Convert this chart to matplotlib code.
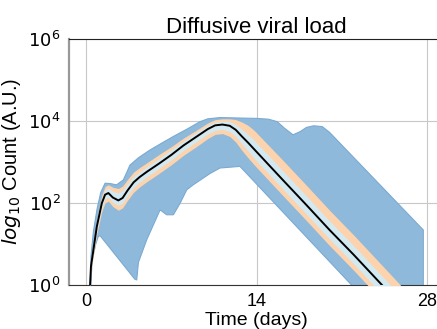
import numpy as np
import matplotlib
matplotlib.use('Agg')
import matplotlib.pyplot as plt

plt.rcParams['font.family'] = ['Liberation Sans', 'DejaVu Sans']

# log10 viral load
days = [0.30, 0.33, 0.40, 0.60, 0.88, 1.29, 1.56, 1.83, 2.20, 2.65,
        3.00, 3.40, 3.90, 4.40, 5.00, 6.00, 7.00, 8.00, 9.00, 10.0,
        10.6, 11.2, 11.8, 12.3, 12.8, 13.3, 13.8, 16.0, 18.0, 20.0,
        22.0, 24.3, 26.0, 28.0]
median = [-0.50, 0.00, 0.45, 0.85, 1.42, 1.99, 2.20, 2.24, 2.13, 2.06,
          2.12, 2.30, 2.50, 2.63, 2.76, 2.96, 3.17, 3.40, 3.60, 3.80,
          3.89, 3.91, 3.88, 3.78, 3.62, 3.47, 3.31, 2.61, 1.98, 1.34,
          0.73, 0.00, -0.54, -1.18]
inner_hi = [-0.45, 0.05, 0.51, 0.93, 1.52, 2.11, 2.32, 2.36, 2.28, 2.24,
            2.30, 2.46, 2.64, 2.75, 2.88, 3.08, 3.29, 3.50, 3.70, 3.89,
            3.97, 3.99, 3.98, 3.91, 3.79, 3.67, 3.53, 2.83, 2.20, 1.56,
            0.95, 0.22, -0.32, -0.96]
inner_lo = [-0.55, -0.05, 0.39, 0.77, 1.32, 1.89, 2.10, 2.14, 2.01, 1.94,
            2.00, 2.18, 2.38, 2.51, 2.64, 2.84, 3.05, 3.28, 3.48, 3.68,
            3.77, 3.79, 3.74, 3.62, 3.44, 3.27, 3.09, 2.39, 1.76, 1.12,
            0.51, -0.22, -0.76, -1.40]
mid_hi = [-0.40, 0.10, 0.57, 1.00, 1.60, 2.19, 2.40, 2.44, 2.38, 2.35,
          2.41, 2.57, 2.75, 2.86, 2.98, 3.18, 3.37, 3.58, 3.76, 3.95,
          4.03, 4.05, 4.05, 4.03, 3.97, 3.89, 3.77, 3.09, 2.46, 1.82,
          1.21, 0.48, -0.06, -0.70]
mid_lo = [-0.60, -0.10, 0.33, 0.70, 1.24, 1.79, 2.00, 2.04, 1.91, 1.82,
          1.88, 2.06, 2.26, 2.39, 2.52, 2.72, 2.93, 3.16, 3.36, 3.57,
          3.67, 3.69, 3.62, 3.48, 3.28, 3.10, 2.93, 2.23, 1.60, 0.96,
          0.35, -0.38, -0.92, -1.56]

# outer envelope (own time points)
upper_days = [0.30, 0.40, 0.60, 0.90, 1.20, 1.56, 2.00, 2.50, 3.06, 3.35,
              3.60, 4.30, 5.25, 6.00, 7.17, 8.30, 9.36, 10.0, 11.0, 12.5,
              14.0, 15.0, 15.7, 16.3, 17.0, 17.6, 18.1, 18.7, 19.4, 20.0,
              27.7, 27.7]
upper = [-0.50, 0.70, 1.30, 1.85, 2.25, 2.48, 2.47, 2.44, 2.56, 2.75,
         2.92, 3.10, 3.29, 3.42, 3.62, 3.80, 3.98, 4.05, 4.08, 4.07,
         4.06, 4.04, 3.98, 3.82, 3.66, 3.74, 3.84, 3.88, 3.86, 3.72,
         1.34, -0.50]
lower_days = [0.30, 0.50, 0.80, 1.00, 1.15, 4.00, 4.16, 4.30, 4.98, 6.08,
              6.62, 7.17, 7.72, 8.27, 8.80, 9.60, 10.2, 11.0, 12.64, 21.8,
              23.5]
lower = [-0.50, 0.60, 1.00, 1.18, 1.20, 0.14, 0.12, 0.55, 1.10, 1.83,
         1.71, 1.71, 1.99, 2.32, 2.44, 2.60, 2.72, 2.85, 2.89, 0.00,
         -0.53]

fig = plt.figure(figsize=(4.37, 3.29), dpi=100)
ax = fig.add_axes([0.158, 0.134, 0.858, 0.748])

poly_x = np.r_[upper_days, lower_days[::-1]]
poly_y = 10 ** np.r_[upper, lower[::-1]]
ax.fill(poly_x, poly_y, color='#8fb9da', edgecolor='#7aaad2', lw=0.8, zorder=2)
ax.fill_between(days, 10 ** np.array(mid_lo), 10 ** np.array(mid_hi),
                color='#fdd3ad', lw=0, zorder=3)
ax.fill_between(days, 10 ** np.array(inner_lo), 10 ** np.array(inner_hi),
                color='#d3e9f1', lw=0, zorder=4)
ax.plot(days, 10 ** np.array(median), color='black', lw=1.4, zorder=5)

ax.set_yscale('log')
ax.set_ylim(1, 1e6)
ax.set_xlim(-1.4, 29.4)
ax.set_yticks([1, 1e2, 1e4, 1e6])
ax.set_yticklabels(['$10^{0}$', '$10^{2}$', '$10^{4}$', '$10^{6}$'])
ax.yaxis.set_minor_locator(matplotlib.ticker.NullLocator())
ax.set_xticks([0, 14, 28])
ax.tick_params(labelsize=13, length=0, pad=6)
ax.grid(True, color='#c8c8c8', lw=0.8, zorder=0)
ax.set_axisbelow(True)

ax.spines['left'].set_color('#999999')
ax.spines['left'].set_linewidth(1.6)
ax.spines['bottom'].set_color('#333333')
ax.spines['top'].set_color('#222222')
ax.spines['right'].set_visible(False)

ax.set_title('Diffusive viral load', fontsize=16, pad=4)
ax.set_xlabel('Time (days)', fontsize=14, labelpad=1)
ax.set_ylabel('$log_{10}$ Count (A.U.)', fontsize=14.5, labelpad=4)

fig.savefig('out.png', dpi=100)
